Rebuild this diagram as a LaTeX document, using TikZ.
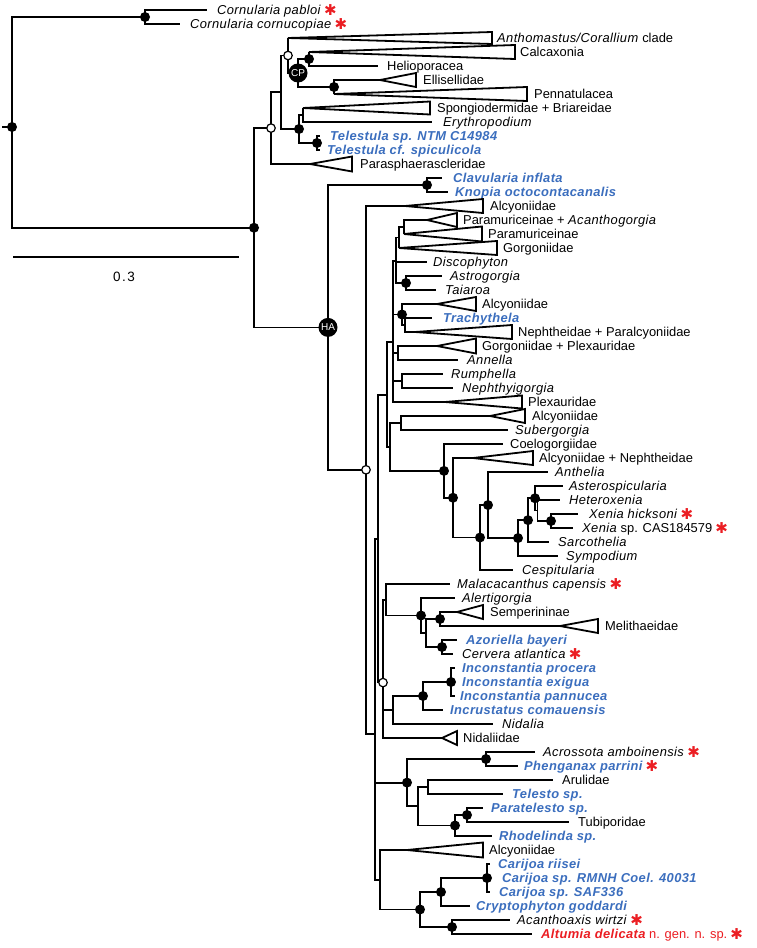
\documentclass[tikz,border=0pt]{standalone}
\usepackage{fontspec}
\setmainfont{Liberation Sans}[ItalicFeatures={LetterSpace=3.0},BoldItalicFeatures={LetterSpace=3.0}]
\newfontfamily\symfont{DejaVu Sans}
\definecolor{tblue}{RGB}{59,110,190}
\definecolor{tred}{RGB}{235,30,35}
\newcommand\bl[1]{{\color{tblue}\bfseries\itshape #1}}
\newcommand\rast{\hspace{3pt}{\color{tred}\symfont\fontsize{15}{15}\selectfont\smash{\raisebox{-0.8pt}{✱}}}}
\newcommand\nd[4]{\coordinate (#1) at (#3,#4); \draw[br] (#2) |- (#1);}
\newcommand\lf[6]{\coordinate (#1) at (#3,#4); \draw[br] (#2) |- (#1); \node[lab] (#1t) at (#5,#4) {#6};}
\newcommand\tri[8]{\coordinate (#1) at (#3,#4); \draw[br] (#2) |- (#1);
  \draw[br] (#1) -- (#5,#4-#6) -- (#5,#4+#6) -- cycle; \node[lab] (#1t) at (#7,#4) {#8};}
\begin{document}
\begin{tikzpicture}[x=1pt,y=-1pt,
  br/.style={line width=1.8pt, line join=miter},
  dot/.style={circle, fill=black, inner sep=0pt, minimum size=10pt},
  odot/.style={circle, fill=white, draw=black, line width=1.2pt, inner sep=0pt, minimum size=8.5pt},
  big/.style={circle, fill=black, inner sep=0pt, minimum size=19pt, text=white, font=\fontsize{10}{10}\selectfont},
  lab/.style={anchor=west, inner sep=0pt, text height=9.2pt, text depth=0pt, font=\fontsize{12.9}{14}\selectfont}]
\fill[white] (0,0) rectangle (756,948);
\useasboundingbox (0,0) rectangle (756,948);
% root
\coordinate (root) at (12,127);
\coordinate (rstub) at (2,127);
\draw[br] (rstub) -- (root);
\nd{C0}{root}{145}{17}
\lf{t0}{C0}{207}{10}{217}{\textit{Cornularia pabloi}\rast}
\lf{t1}{C0}{180}{24}{190}{\textit{Cornularia cornucopiae}\rast}
\nd{U0}{root}{254}{227.75}
\nd{U1}{U0}{271}{128.1}
\nd{U2}{U1}{281}{92.25}
\nd{U3}{U2}{288}{55.5}
\tri{t2}{U3}{288}{38}{492}{6}{497}{\textit{Anthomastus/Corallium} clade}
\nd{CP}{U3}{298}{73}
\nd{CalcN}{CP}{309}{59}
\tri{t3}{CalcN}{309}{52}{515}{7}{520}{Calcaxonia}
\lf{t4}{CalcN}{378}{66}{387}{Helioporacea}
\nd{EP}{CP}{334}{87}
\tri{t5}{EP}{380}{80}{416}{7}{423}{Ellisellidae}
\tri{t6}{EP}{334}{94}{527}{7}{534}{Pennatulacea}
\nd{U4}{U2}{299}{129}
\nd{SE}{U4}{303}{115}
\tri{t7}{SE}{303}{108}{430}{6.5}{437}{Spongiodermidae + Briareidae}
\lf{t8}{SE}{432}{122}{443}{\textit{Erythropodium}}
\nd{Tel}{U4}{317}{143}
\lf{t9}{Tel}{320}{136}{330}{\bl{Telestula sp. NTM C14984}}
\lf{t10}{Tel}{320}{150}{327}{\bl{Telestula cf. spiculicola}}
\tri{t11}{U1}{310}{164}{352}{7.5}{360}{Parasphaerascleridae}
% HA clade
\nd{HA}{U0}{328}{327.4}
\nd{CK}{HA}{427}{185}
\lf{t12}{CK}{442}{178}{453}{\bl{Clavularia inflata}}
\lf{t13}{CK}{448}{192}{455}{\bl{Knopia octocontacanalis}}
\nd{N1}{HA}{366}{469.8}
\tri{t14}{N1}{405}{206}{483}{7}{490}{Alcyoniidae}
\nd{N2}{N1}{375}{733.65}
\nd{S}{N2}{378}{538.6}
\nd{Q}{S}{387}{394.6}
\nd{P}{Q}{393}{342.27}
\nd{B}{P}{396}{260.83}
\nd{A}{B}{399}{237.5}
\nd{PN}{A}{404}{227}
\tri{t15}{PN}{427}{220}{457}{7}{463}{Paramuriceinae + \textit{Acanthogorgia}}
\tri{t16}{PN}{404}{234}{482}{7.5}{488}{Paramuriceinae}
\tri{t17}{A}{399}{248}{497}{7}{503}{Gorgoniidae}
\lf{t18}{B}{427}{262}{433}{\textit{Discophyton}}
\nd{AT}{B}{406}{283}
\lf{t19}{AT}{442}{276}{450}{\textit{Astrogorgia}}
\lf{t20}{AT}{436}{290}{445}{\textit{Taiaroa}}
\nd{T2}{P}{402}{314.5}
\tri{t21}{T2}{437}{304}{476}{7}{482}{Alcyoniidae}
\nd{T1}{T2}{405}{325}
\lf{t22}{T1}{432}{318}{443}{\bl{Trachythela}}
\tri{t23}{T1}{415}{332}{512}{7}{518}{Nephtheidae + Paralcyoniidae}
\nd{GA}{P}{398}{353}
\tri{t24}{GA}{437}{346}{476}{7.5}{482}{Gorgoniidae + Plexauridae}
\lf{t25}{GA}{458}{360}{467}{\textit{Annella}}
\nd{RN}{P}{402}{381}
\lf{t26}{RN}{443}{374}{451}{\textit{Rumphella}}
\lf{t27}{RN}{453}{388}{462}{\textit{Nephthyigorgia}}
\tri{t28}{P}{445}{402}{522}{6.5}{528}{Plexauridae}
\nd{R}{Q}{390}{446.94}
\nd{SN}{R}{401}{423}
\tri{t29}{SN}{490}{416}{525}{7}{532}{Alcyoniidae}
\lf{t30}{SN}{508}{430}{515}{\textit{Subergorgia}}
\nd{XC}{R}{444}{470.88}
\lf{t31}{XC}{503}{444}{510}{Coelogorgiidae}
\nd{XD}{XC}{453}{497.76}
\tri{t32}{XD}{473}{458}{533}{7}{539}{Alcyoniidae + Nephtheidae}
\nd{XE}{XD}{480}{537.52}
\nd{XF}{XE}{488}{505.03}
\lf{t33}{XF}{548}{472}{555}{\textit{Anthelia}}
\nd{XG}{XF}{518}{538.06}
\nd{XH}{XG}{528}{520.13}
\nd{XI}{XH}{535}{498.25}
\lf{t34}{XI}{563}{486}{569}{\textit{Asterospicularia}}
\nd{XK}{XI}{537.5}{510.5}
\lf{t35}{XK}{560}{500}{569}{\textit{Heteroxenia}}
\nd{XJ}{XK}{551}{521}
\lf{t36}{XJ}{578}{514}{589}{\textit{Xenia hicksoni}\rast}
\lf{t37}{XJ}{573}{528}{582}{\textit{Xenia} sp. CAS184579\rast}
\lf{t38}{XH}{549}{542}{558}{\textit{Sarcothelia}}
\lf{t39}{XG}{558}{556}{566}{\textit{Sympodium}}
\lf{t40}{XE}{513}{570}{522}{\textit{Cespitularia}}
\nd{K}{S}{383}{682.58}
\nd{M}{K}{386}{599.75}
\lf{t41}{M}{450}{584}{457}{\textit{Malacacanthus capensis}\rast}
\nd{AL}{M}{421}{615.5}
\lf{t42}{AL}{455}{598}{462}{\textit{Alertigorgia}}
\nd{AP}{AL}{426}{633}
\nd{AN}{AP}{440}{619}
\tri{t43}{AN}{457}{612}{483}{7}{490}{Semperininae}
\tri{t44}{AN}{560}{626}{598}{7}{605}{Melithaeidae}
\nd{AO}{AP}{442}{647}
\lf{t45}{AO}{457}{640}{466}{\bl{Azoriella bayeri}}
\lf{t46}{AO}{453}{654}{462}{\textit{Cervera atlantica}\rast}
\nd{I}{K}{393}{710}
\nd{IC}{I}{423}{696}
\nd{IN}{IC}{451}{682}
\lf{t47}{IN}{455}{668}{462}{\bl{Inconstantia procera}}
\lf{t48}{IN}{455}{682}{462}{\bl{Inconstantia exigua}}
\lf{t49}{IN}{455}{696}{460}{\bl{Inconstantia pannucea}}
\lf{t50}{IC}{443}{710}{450}{\bl{Incrustatus comauensis}}
\lf{t51}{I}{493}{724}{502}{\textit{Nidalia}}
\tri{t52}{K}{442}{738}{457}{7}{463}{Nidaliidae}
\nd{X}{N2}{407}{782.6}
\nd{XA}{X}{486}{759}
\lf{t53}{XA}{535}{752}{543}{\textit{Acrossota amboinensis}\rast}
\lf{t54}{XA}{518}{766}{524}{\bl{Phenganax parrini}\rast}
\nd{XB}{X}{418}{806.25}
\nd{XBa}{XB}{428}{787}
\lf{t55}{XBa}{553}{780}{562}{Arulidae}
\lf{t56}{XBa}{503}{794}{512}{\bl{Telesto sp.}}
\nd{XBb}{XB}{455}{825.5}
\nd{XBc}{XBb}{467}{815}
\lf{t57}{XBc}{483}{808}{491}{\bl{Paratelesto sp.}}
\lf{t58}{XBc}{569}{822}{578}{Tubiporidae}
\lf{t59}{XBb}{492}{836}{499}{\bl{Rhodelinda sp.}}
\nd{W}{N2}{380}{879.75}
\tri{t60}{W}{407}{850}{483}{7.5}{489}{Alcyoniidae}
\nd{WB}{W}{420}{909.5}
\nd{WC}{WB}{441}{892}
\nd{WE}{WC}{487}{878}
\lf{t61}{WE}{490}{864}{498}{\bl{Carijoa riisei}}
\lf{t62}{WE}{490}{878}{502}{\bl{Carijoa sp. RMNH Coel. 40031}}
\lf{t63}{WE}{490}{892}{499}{\bl{Carijoa sp. SAF336}}
\lf{t64}{WC}{470}{906}{476}{\bl{Cryptophyton goddardi}}
\nd{WD}{WB}{452}{927}
\lf{t65}{WD}{510}{920}{517}{\textit{Acanthoaxis wirtzi}\rast}
\lf{t66}{WD}{532}{934}{541}{{\color{tred}\bfseries\itshape Altumia delicata} {\color{tred}n. gen. n. sp.}\rast}
% node markers
\foreach \n in {root,C0,U0,CalcN,EP,U4,Tel,CK,AT,T2,XC,XD,XE,XF,XG,XH,XI,XJ,AL,AN,AO,IN,IC,XA,X,XBb,XBc,WB,WC,WE,WD}
  \node[dot] (d\n) at (\n) {};
\foreach \n in {U1,U3,N1,K}
  \node[odot] (o\n) at (\n) {};
\node[big] (cpn) at (CP) {CP};
\node[big] (han) at (HA) {HA};
% scale bar
\coordinate (sbL) at (13,257);
\coordinate (sbR) at (239,257);
\draw[br] (sbL) -- (sbR);
\node[font=\fontsize{13.5}{14}\selectfont, inner sep=0pt] (sbt) at (124,277) {0\kern1.5pt.\kern1.5pt3};
\end{tikzpicture}
\end{document}
